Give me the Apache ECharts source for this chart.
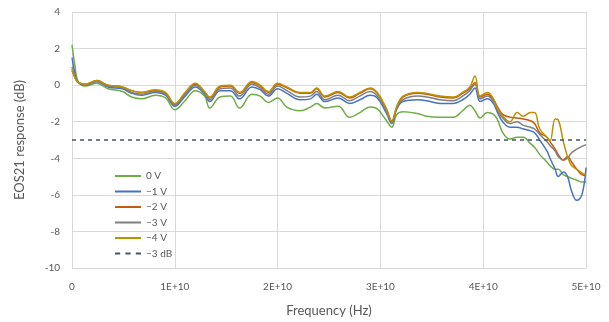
<!DOCTYPE html>
<html><head><meta charset="utf-8">
<script src="https://cdn.jsdelivr.net/npm/echarts@6/dist/echarts.min.js"></script>
<style>html,body{margin:0;padding:0;background:#fff}#c{width:609px;height:322px}</style>
</head><body><div id="c"></div>
<script>
// Frequency in units of 1E+9 Hz (GHz)
const freq = [0,0.3,0.6,1.3,2.4,3.5,4.9,5.8,6.8,8.1,9.1,10.0,11.0,12.0,12.9,13.4,14.4,15.4,16.3,17.5,18.3,19.1,20.0,20.9,22.2,23.2,23.8,24.6,25.9,27.0,28.0,29.0,29.7,30.6,31.1,31.6,32.2,33.6,34.5,35.8,37.1,38.0,38.7,39.2,39.7,40.4,41.0,41.4,41.9,42.6,43.3,43.9,44.6,45.0,45.5,46.2,46.5,47.0,47.3,47.8,48.2,48.6,49.1,49.6,50.0];
const v0 = [2.2,1.0,0.2,-0.05,0.1,-0.2,-0.35,-0.65,-0.75,-0.55,-0.7,-1.35,-0.85,-0.3,-0.6,-1.25,-0.65,-0.6,-1.25,-0.5,-0.6,-0.95,-0.7,-1.2,-1.4,-1.2,-1.0,-1.25,-1.15,-1.75,-1.5,-1.2,-1.3,-1.95,-2.3,-1.6,-1.45,-1.55,-1.7,-1.75,-1.75,-1.4,-1.1,-1.4,-1.8,-1.5,-1.6,-1.9,-2.6,-2.95,-2.85,-2.85,-3.2,-3.4,-3.8,-4.2,-4.4,-4.6,-4.6,-4.9,-5.0,-5.1,-5.2,-5.3,-5.3];
const v1 = [1.5,0.6,0.15,0.0,0.2,-0.1,-0.2,-0.45,-0.55,-0.4,-0.55,-1.15,-0.6,-0.1,-0.5,-0.9,-0.3,-0.3,-0.75,-0.1,-0.25,-0.6,-0.2,-0.45,-0.8,-0.75,-0.5,-0.9,-0.7,-1.0,-0.8,-0.55,-0.7,-1.55,-2.1,-1.3,-0.9,-0.8,-0.85,-1.0,-1.0,-0.8,-0.5,-0.15,-0.9,-0.75,-1.0,-1.5,-2.0,-2.3,-2.3,-2.4,-2.5,-2.6,-3.0,-3.6,-4.0,-4.6,-5.0,-4.75,-5.0,-5.8,-6.3,-6.0,-4.5];
const v2 = [0.8,0.4,0.15,0.05,0.25,0.0,-0.1,-0.3,-0.4,-0.3,-0.45,-1.05,-0.45,0.05,-0.4,-0.7,-0.1,-0.05,-0.45,0.15,-0.05,-0.4,0.05,-0.15,-0.45,-0.45,-0.2,-0.65,-0.4,-0.7,-0.45,-0.2,-0.45,-1.35,-2.0,-1.2,-0.65,-0.45,-0.5,-0.65,-0.7,-0.45,-0.2,0.15,-0.65,-0.5,-0.8,-1.2,-1.6,-1.75,-1.8,-1.85,-1.95,-2.1,-2.6,-2.85,-3.1,-3.5,-3.8,-4.1,-3.9,-4.2,-4.6,-4.9,-4.95];
const v3 = [1.0,0.45,0.15,0.0,0.2,-0.05,-0.15,-0.4,-0.5,-0.35,-0.5,-1.1,-0.5,0.0,-0.45,-0.8,-0.2,-0.15,-0.6,0.05,-0.15,-0.5,-0.05,-0.3,-0.65,-0.6,-0.35,-0.8,-0.55,-0.85,-0.6,-0.35,-0.6,-1.45,-2.05,-1.25,-0.8,-0.6,-0.65,-0.8,-0.85,-0.6,-0.3,0.05,-0.75,-0.6,-0.9,-1.4,-1.8,-2.1,-2.0,-2.2,-2.3,-2.4,-2.7,-3.1,-3.3,-3.6,-3.9,-4.1,-4.0,-3.7,-3.5,-3.35,-3.25];
const v4 = [0.9,0.4,0.15,0.05,0.25,0.0,-0.1,-0.3,-0.4,-0.25,-0.4,-1.0,-0.4,0.1,-0.35,-0.65,-0.05,0.0,-0.4,0.2,0.0,-0.35,0.1,-0.1,-0.4,-0.4,-0.15,-0.6,-0.35,-0.65,-0.4,-0.15,-0.4,-1.3,-1.95,-1.15,-0.6,-0.4,-0.45,-0.6,-0.65,-0.4,-0.1,0.5,-0.6,-0.4,-0.75,-1.3,-1.7,-2.0,-1.5,-1.7,-1.5,-1.5,-2.4,-2.85,-3.05,-1.85,-1.9,-3.1,-3.9,-4.4,-4.6,-4.8,-4.9];
const refFreq = [0, 50];
const refVal = [-3, -3];
const seriesNames = ['0 V','\u22121 V','\u22122 V','\u22123 V','\u22124 V','\u22123 dB'];
const xTickLabels = {0:'0',10:'1E+10',20:'2E+10',30:'3E+10',40:'4E+10',50:'5E+10'};

const colors = ['#70AD47','#4472C4','#C55A11','#7F7F7F','#BF9000','#44546A'];
const pair = (xs, ys) => xs.map((x,i)=>[x, ys[i]]);
const vals = [v0,v1,v2,v3,v4];
const txt = '#595959';
const font = 'Lato, "Open Sans", sans-serif';
const solidIcon = 'path://M0,0 L26,0 L26,2 L0,2 Z';
const dashIcon = 'path://M0,0 L5,0 L5,2 L0,2 Z M10,0 L15,0 L15,2 L10,2 Z M20,0 L25,0 L25,2 L20,2 Z';

const series = vals.map((v,i)=>({
  name: seriesNames[i], type:'line', data: pair(freq, v), showSymbol:false, symbol:'none',
  smooth: 0.4, lineStyle:{width:1.5, color: colors[i]}, itemStyle:{color: colors[i]}, z: 2+i
}));
series.push({
  name: seriesNames[5], type:'line', data: pair(refFreq, refVal), symbol:'none',
  lineStyle:{width:1.5, type:[4,4], color: colors[5]}, itemStyle:{color: colors[5]}, z: 10
});

const chart = echarts.init(document.getElementById('c'), null, {renderer:'canvas'});
chart.setOption({
  animation:false,
  backgroundColor:'#fff',
  textStyle:{fontFamily: font},
  grid:{left:72, right:23, top:12, bottom:53, containLabel:false},
  legend:{
    orient:'vertical', left:110, top:166, itemWidth:26, itemHeight:10, itemGap:5.5,
    textStyle:{color:txt, fontSize:10, fontFamily: font},
    data: seriesNames.map((n,i)=>({name:n, icon: i===5 ? dashIcon : solidIcon}))
  },
  xAxis:{
    type:'value', min:0, max:50, interval:10,
    name:'Frequency (Hz)', nameLocation:'middle', nameGap:36,
    nameTextStyle:{color:txt, fontSize:13, fontFamily: font},
    axisLine:{show:false}, axisTick:{show:false},
    axisLabel:{color:txt, fontSize:10, margin:14, formatter: v => xTickLabels[v] !== undefined ? xTickLabels[v] : ''},
    splitLine:{show:true, lineStyle:{color:'#D9D9D9', width:1}}
  },
  yAxis:{
    type:'value', min:-10, max:4, interval:2,
    name:'EOS21 response (dB)', nameLocation:'middle', nameGap:46, nameRotate:90,
    nameTextStyle:{color:txt, fontSize:13, fontFamily: font},
    axisLine:{show:false}, axisTick:{show:false},
    axisLabel:{color:txt, fontSize:10, margin:12},
    splitLine:{show:true, lineStyle:{color:'#D9D9D9', width:1}}
  },
  series
});
</script></body></html>
